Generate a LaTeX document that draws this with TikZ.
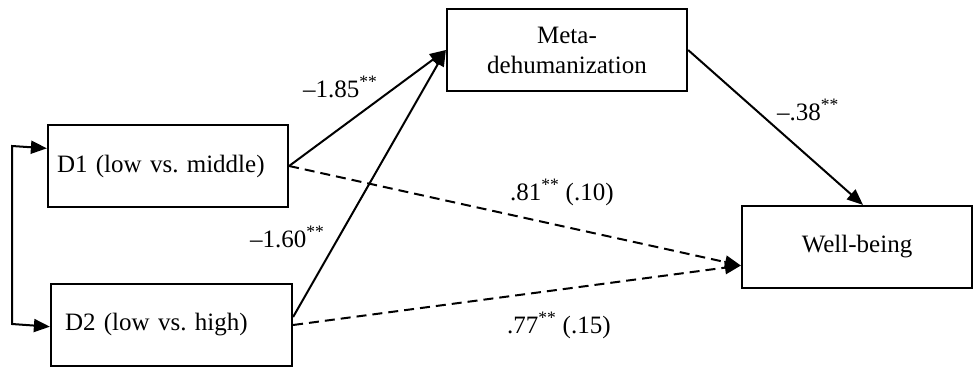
\documentclass[tikz,border=0pt]{standalone}
\usepackage{fontspec}
\setmainfont{Liberation Serif}
\usetikzlibrary{arrows.meta,calc}
\frenchspacing
\begin{document}
\begin{tikzpicture}[x=1pt,y=-1pt,
  txt/.style={font=\fontsize{25}{30}\selectfont},
  box/.style={txt,draw,line width=2.2pt,minimum height=82pt},
  tip/.style={},
  arr/.style={line width=2pt,-{Triangle[length=16pt,width=13pt]}},
  dsh/.style={arr,dash pattern=on 10pt off 6pt},
  lab/.style={txt,inner sep=0pt,anchor=base west}]
\useasboundingbox (0,0) rectangle (975,367);
\node[box,text width=222pt,inner xsep=9pt,align=left] (D1) at (168,166) {D1 (low vs. middle)};
\node[box,text width=213pt,inner xsep=14pt,align=left] (D2) at (171.5,325) {D2 (low vs. high)};
\node[box,minimum width=240pt,align=center] (M) at (567,50) {Meta-\\dehumanization};
\node[box,minimum width=230pt] (W) at (857,247) {Well-being};
\coordinate (b1) at (12,146);
\coordinate (b2) at (12,324);
\coordinate (p1) at ($(D1.north west)!0.29!(D1.south west)$);
\coordinate (p2) at ($(D2.north west)!0.52!(D2.south west)$);
\coordinate (wt) at ($(W.north)+(6,0)$);
\coordinate (wl) at ($(W.north west)!0.72!(W.south west)$);
\coordinate (d2e) at ($(D2.east)+(0,-8)$);
\draw[line width=2pt,{Triangle[length=16pt,width=13pt]}-{Triangle[length=16pt,width=13pt]}] (p1) -- (b1) -- (b2) -- (p2);
\draw[arr] (D1.east) -- (M.west);
\draw[arr] (d2e) -- (M.west);
\draw[dsh] (D1.east) -- (wl);
\draw[dsh] (D2.east) -- (wl);
\draw[arr] (M.east) -- (wt);
\node[lab] (l185) at (303,97) {–1.85\textsuperscript{**}};
\node[lab] (l81) at (510,200) {.81\textsuperscript{**} (.10)};
\node[lab] (l160) at (250,247) {–1.60\textsuperscript{**}};
\node[lab] (l77) at (507,333) {.77\textsuperscript{**} (.15)};
\node[lab] (l38) at (777,120) {–.38\textsuperscript{**}};
\end{tikzpicture}
\end{document}
